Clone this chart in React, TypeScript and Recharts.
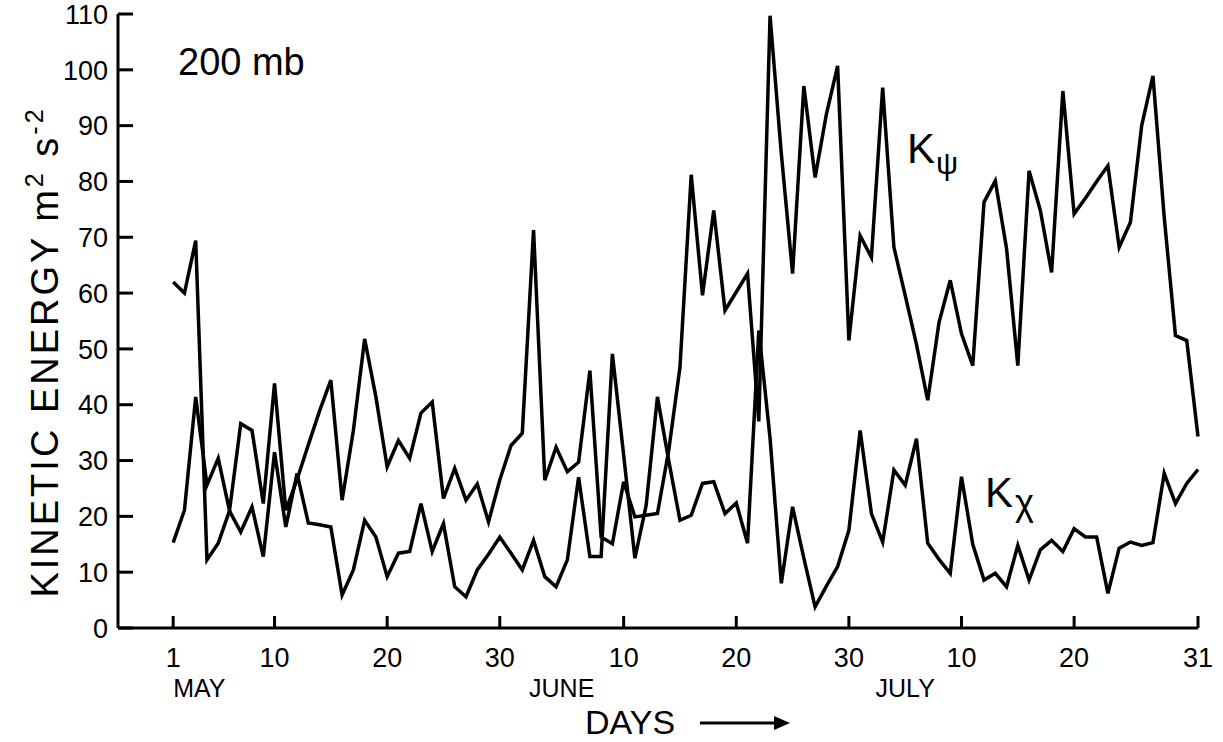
import { LineChart, Line, XAxis, YAxis } from 'recharts';

// daily values, day 0 = 1 May, day 91 = 31 July
const psi = [
  62, 60, 69.4, 12.2, 15.2, 21, 36.6, 35.4, 22.3, 43.8,
  21.1, 26.6, 32.8, 38.9, 44.4, 22.9, 35.4, 51.8, 41.4, 28.9,
  33.6, 30.4, 38.5, 40.5, 23.2, 28.6, 22.9, 25.8, 19, 26.5,
  32.7, 34.9, 71.3, 26.5, 32.4, 28, 29.7, 46.1, 16.3, 15.1,
  26.2, 19.9, 20.2, 20.5, 31.8, 46.7, 81.2, 59.6, 74.8, 56.9,
  60.2, 63.5, 37, 109.7, 85, 63.5, 97.1, 80.7, 92, 100.7,
  51.5, 70.3, 66.4, 96.8, 68.2, 59.6, 50.8, 40.8, 54.7, 62.3,
  52.7, 47, 76.3, 80.1, 68, 47, 81.9, 74.8, 63.7, 96.2,
  74.2, 77, 80, 82.8, 68.2, 72.7, 90, 98.9, 73.6, 52.4,
  51.5, 34.3,
];

const chi = [
  15.3, 21.1, 41.4, 25.6, 30.4, 21, 17.2, 21.7, 12.8, 31.5,
  18.1, 27.7, 18.8, 18.5, 18.1, 5.9, 10.4, 19.3, 16.3, 9.2,
  13.4, 13.7, 22.3, 13.7, 18.7, 7.4, 5.6, 10.4, 13.2, 16.3,
  13.4, 10.4, 15.7, 9.2, 7.4, 12.2, 27, 12.8, 12.8, 49.1,
  31, 12.5, 22, 41.4, 30, 19.3, 20.2, 25.9, 26.2, 20.5,
  22.4, 15.2, 53.3, 34, 8, 21.7, 12.5, 3.8, 7.5, 11,
  17.5, 35.4, 20.5, 15.4, 28.3, 25.6, 33.9, 15.2, 12.3, 9.8,
  27.1, 15, 8.6, 9.8, 7.4, 14.8, 8.6, 14, 15.7, 13.7,
  17.8, 16.3, 16.3, 6.2, 14.3, 15.4, 14.8, 15.3, 27.7, 22.3,
  25.9, 28.4,
];

const dayTicks = [0, 9, 19, 29, 40, 50, 60, 70, 80, 91];
const dayLabels = ['1', '10', '20', '30', '10', '20', '30', '10', '20', '31'];
const monthTicks = [0, 34.5, 65];
const monthLabels = ['MAY', 'JUNE', 'JULY'];
const energyTicks = [0, 10, 20, 30, 40, 50, 60, 70, 80, 90, 100, 110];

const data = psi.map((v, i) => ({ day: i, psi: v, chi: chi[i] }));

const FONT = '"Liberation Sans", Arial, sans-serif';

function YTick({ x, y, payload }: any) {
  const ax = x + 10;
  return (
    <g>
      <line x1={ax} x2={ax + 15} y1={y} y2={y} stroke="#000" strokeWidth={3} />
      <text x={x} y={y} dy="0.36em" textAnchor="end" fontSize={27} fontFamily={FONT} fill="#000">
        {payload.value}
      </text>
    </g>
  );
}

function XTick({ x, y, payload }: any) {
  const ay = y - 20;
  const label = dayLabels[dayTicks.indexOf(payload.value)];
  return (
    <g>
      <line x1={x} x2={x} y1={ay} y2={ay - 12} stroke="#000" strokeWidth={3} />
      <text x={x} y={y} dy="0.71em" textAnchor="middle" fontSize={27} fontFamily={FONT} fill="#000">
        {label}
      </text>
    </g>
  );
}

function MonthTick({ x, y, payload }: any) {
  const i = monthTicks.indexOf(payload.value);
  return (
    <text x={x} y={y} dy="0.71em" textAnchor={i === 0 ? 'start' : 'middle'} fontSize={25} fontFamily={FONT} fill="#000">
      {monthLabels[i]}
    </text>
  );
}

export default function App() {
  return (
    <div style={{ position: 'absolute', left: 0, top: 0, width: 1223, height: 742, background: '#fff' }}>
      <LineChart width={1223} height={742} data={data} margin={{ top: 14, right: 25, left: 0, bottom: 0 }}>
        <XAxis
          dataKey="day"
          type="number"
          domain={[-4.9, 91]}
          ticks={dayTicks}
          interval={0}
          tick={<XTick />}
          tickSize={0}
          tickMargin={20}
          tickLine={false}
          axisLine={{ stroke: '#000', strokeWidth: 3 }}
          height={45}
        />
        <XAxis
          xAxisId="m"
          dataKey="day"
          type="number"
          domain={[-4.9, 91]}
          ticks={monthTicks}
          interval={0}
          tick={<MonthTick />}
          tickSize={0}
          tickMargin={6}
          tickLine={false}
          axisLine={false}
          height={69}
        />
        <YAxis
          type="number"
          domain={[0, 110]}
          ticks={energyTicks}
          interval={0}
          tick={<YTick />}
          tickSize={0}
          tickMargin={10}
          tickLine={false}
          axisLine={{ stroke: '#000', strokeWidth: 3 }}
          width={118}
        />
        <Line type="linear" dataKey="psi" stroke="#000" strokeWidth={3.5} dot={false} isAnimationActive={false} />
        <Line type="linear" dataKey="chi" stroke="#000" strokeWidth={3.5} dot={false} isAnimationActive={false} />
      </LineChart>
      <svg width={1223} height={742} style={{ position: 'absolute', left: 0, top: 0, pointerEvents: 'none' }}>
        <g fontFamily={FONT} fill="#000">
          <text x={178} y={75} fontSize={38}>200 mb</text>
          <text x={907} y={163} fontSize={42}>K</text>
          <text x={936} y={174} fontSize={31}>ψ</text>
          <text x={985} y={507} fontSize={42}>K</text>
          <text x={1015} y={515} fontSize={36}>χ</text>
          <text transform="translate(58 352) rotate(-90)" textAnchor="middle" fontSize={38} letterSpacing={3}>
            KINETIC ENERGY m<tspan dy={-15} fontSize={25}>2</tspan>
            <tspan dy={15}> s</tspan>
            <tspan dy={-15} fontSize={25}>-2</tspan>
          </text>
          <text x={585} y={734} fontSize={34}>DAYS</text>
          <line x1={700} x2={776} y1={723} y2={723} stroke="#000" strokeWidth={3} />
          <polygon points="774,716 790,723 774,730" fill="#000" />
        </g>
      </svg>
    </div>
  );
}
